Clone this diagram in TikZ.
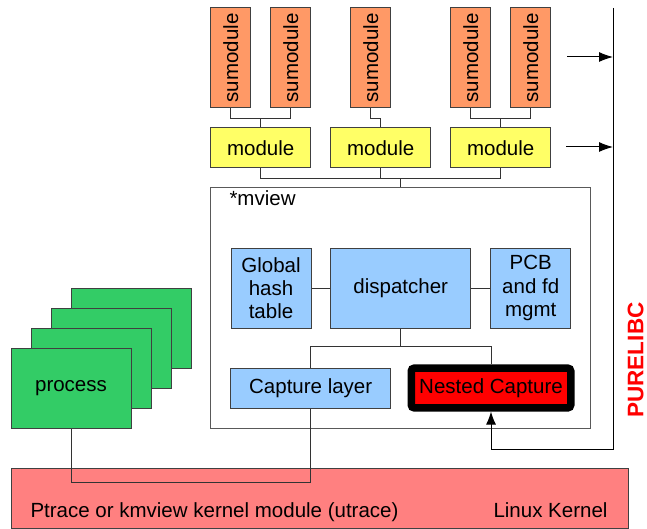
\documentclass[tikz,border=0pt]{standalone}
\usepackage{fontspec}
\setmainfont{Liberation Sans}
\usetikzlibrary{arrows.meta}
\definecolor{sumodcol}{RGB}{255,153,102}
\definecolor{modcol}{RGB}{255,255,102}
\definecolor{blkcol}{RGB}{153,204,255}
\definecolor{proccol}{RGB}{51,204,102}
\definecolor{kerncol}{RGB}{255,128,128}

\begin{document}
\begin{tikzpicture}[x=1pt,y=-1pt,line width=1pt]
          \tikzstyle{every node}=[font=\fontsize{20.5}{23.3}\selectfont,align=center,inner sep=0pt]
          \tikzstyle{box}=[draw=black!75]
          \tikzstyle{sumod}=[box,fill=sumodcol,minimum width=40pt,minimum height=100pt]
          \tikzstyle{mod}=[box,fill=modcol,minimum width=100pt,minimum height=40pt]
          \tikzstyle{blk}=[box,fill=blkcol,minimum height=80pt]
          \tikzstyle{proc}=[box,fill=proccol,minimum width=120pt,minimum height=80pt]
          \tikzstyle{wire}=[draw=black!80]
          \useasboundingbox (0,0) rectangle (647,529);
          \node[box,fill=kerncol,minimum width=617pt,minimum height=60pt] (kernel) at (319.5,498) {};
          \node[anchor=base west] (ktext) at (30,517) {Ptrace or kmview kernel module (utrace)};
          \node[anchor=base east] (klabel) at (608,517) {Linux Kernel};
          \node[sumod] (s1) at (230.7,58) {\rotatebox{90}{sumodule}};
          \node[sumod] (s2) at (290.7,58) {\rotatebox{90}{sumodule}};
          \node[sumod] (s3) at (370.7,58) {\rotatebox{90}{sumodule}};
          \node[sumod] (s4) at (470.7,58) {\rotatebox{90}{sumodule}};
          \node[sumod] (s5) at (530.7,58) {\rotatebox{90}{sumodule}};
          \node[mod] (m1) at (260.7,148) {module};
          \node[mod] (m2) at (380.7,148) {module};
          \node[mod] (m3) at (500.7,148) {module};
          \node[box,draw=black!65,minimum width=380pt,minimum height=240pt] (mview) at (400.7,308) {};
          \node[anchor=base west] (mviewlabel) at (229,206) {*mview};
          \node[blk,minimum width=80pt] (hash) at (271,288) {Global\\hash\\table};
          \node[blk,minimum width=140pt] (disp) at (400.7,288) {dispatcher};
          \node[blk,minimum width=80pt] (pcb) at (530.7,288) {PCB\\and fd\\mgmt};
          \node[blk,minimum width=160pt,minimum height=40pt] (capture) at (310.7,388) {Capture layer};
          \node[draw=black,line width=7.5pt,rounded corners=3pt,fill=red,minimum width=159.5pt,minimum height=39.7pt] (nested) at (491,388) {Nested Capture};
          \foreach \i/\x/\y in {4/131/328,3/111/348,2/91/368}
            \node[proc] (p\i) at (\x,\y) {};
          \node[proc] (p1) at (71,388) {process};
          \node[rotate=90,text=red,font=\fontsize{22.5}{23}\selectfont\bfseries] (purelibc) at (635.5,360) {PURELIBC};
          \draw[wire] (s1.south) -- ++(0,10) -| (m1.north);
          \draw[wire] (s2.south) -- ++(0,10) -| (m1.north);
          \draw[wire] (s3.south) -- ++(0,10) -| (m2.north);
          \draw[wire] (s4.south) -- ++(0,10) -| (m3.north);
          \draw[wire] (s5.south) -- ++(0,10) -| (m3.north);
          \foreach \m in {m1,m2,m3}
            \draw[wire] (\m.south) -- ++(0,10) -| (mview.north);
          \draw[wire] (hash) -- (disp);
          \draw[wire] (disp) -- (pcb);
          \draw[wire] (disp.south) -- ++(0,18) -| (capture.north);
          \draw[wire] (disp.south) -- ++(0,18) -| (nested.north);
          \draw[wire] (capture.south) -- ++(0,74) -| (p1.south);
          \coordinate (bustop) at (613,8);
          \coordinate (busbot) at (613,449);
          \coordinate (in1) at (567,57);
          \coordinate (in2) at (566,147);
          \draw[-{Latex[length=13pt,width=10pt]}] (bustop) -- (busbot) -| (nested.south);
          \draw[-{Latex[length=14pt,width=10pt]}] (in1) -- (in1 -| bustop);
          \draw[-{Latex[length=14pt,width=10pt]}] (in2) -- (in2 -| bustop);
      \end{tikzpicture}
\end{document}
